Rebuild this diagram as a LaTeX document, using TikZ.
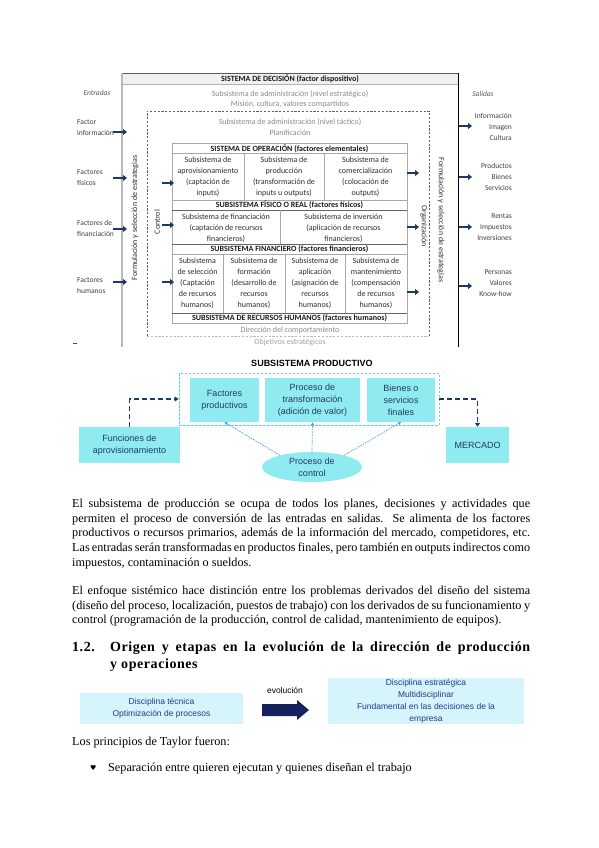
\documentclass[tikz,border=0pt]{standalone}
\usepackage{fontspec}
\setmainfont{Liberation Serif}
\newfontfamily\carl{Carlito}
\newfontfamily\arl{Liberation Sans}
\newfontfamily\djv{DejaVu Sans}
\newfontfamily\headfont[LetterSpace=4]{Liberation Serif}
\usetikzlibrary{arrows.meta,shapes.geometric}
\definecolor{navy}{HTML}{1F3864}
\definecolor{cyanfill}{HTML}{8FEBF0}
\definecolor{cyanline}{HTML}{55D3EA}
\definecolor{dotblue}{HTML}{3A9FD8}
\definecolor{lightcy}{HTML}{D6F4FB}
\definecolor{boxtext}{HTML}{1F3C88}
\definecolor{darkarrow}{HTML}{16225E}
\definecolor{txtgray}{HTML}{8A8A8A}
\definecolor{tblline}{HTML}{A8A8A8}
\definecolor{tbldark}{HTML}{666666}
\begin{document}
\begin{tikzpicture}[x=1pt,y=-1pt,
  sm/.style={font=\carl\fontsize{8}{11}\selectfont, text=black!82, inner sep=0pt, align=center},
  smb/.style={sm, font=\carl\bfseries\fontsize{8}{11}\selectfont, text=black!90},
  gry/.style={sm, text=txtgray},
  lab/.style={sm, font=\carl\fontsize{7.5}{11}\selectfont, text=black!75},
  inarrow/.style={draw=navy, line width=2pt, -{Triangle[length=4pt,width=6pt]}},
  pbox/.style={fill=cyanfill, draw=none, font=\arl\fontsize{9}{12}\selectfont, text=navy, align=center, inner sep=0pt},
  lbox/.style={fill=lightcy, draw=none, font=\arl\fontsize{8.5}{12}\selectfont, text=boxtext, align=center, inner sep=0pt},
  navydash/.style={draw=navy, line width=1.6pt, dash pattern=on 5pt off 3pt, -{Triangle[length=4pt,width=5pt]}},
  dotarrow/.style={draw=dotblue, line width=0.7pt, dash pattern=on 1.5pt off 1.2pt, -{Triangle[length=3pt,width=3pt]}},
  body/.style={font=\fontsize{12.2}{14}\selectfont, inner sep=0pt, anchor=base west},
  head/.style={font=\headfont\bfseries\fontsize{14}{16}\selectfont, inner sep=0pt, anchor=base west}
]
\useasboundingbox (0,0) rectangle (599,848);
\fill[white] (0,0) rectangle (599,848);

% ===== SISTEMA DE DECISION =====
\fill[gray!12] (122,73) rectangle (458,84);
\draw[gray!60] (122,84) -- (458,84);
\draw[gray!70!black, line width=0.8pt] (122,73) -- (458,73);
\draw[gray!55, line width=1.3pt] (122,73) -- (122,347);
\draw[black, line width=0.8pt] (458,73) -- (458,347);
\node[smb] (dec) at (290,78.8) {SISTEMA DE DECISIÓN (factor dispositivo)};
\node[gry] (ae) at (290,94) {Subsistema de administración (nivel estratégico)};
\node[gry] (mis) at (290,104) {Misión, cultura, valores compartidos};

% dashed box
\draw[gray!75!black, line width=0.6pt, dash pattern=on 2.2pt off 1.6pt] (147,336) -- (147,111) -- (429,111) -- (429,336);
\draw[gray!55, line width=0.6pt, dash pattern=on 2.2pt off 1.6pt] (147,336) -- (429,336);
\node[gry] (at) at (290,122.5) {Subsistema de administración (nivel táctico)};
\node[gry] (plan) at (290,132.5) {Planificación};
\node[gry] (dir) at (290,330) {Dirección del comportamiento};
\node[gry, text=txtgray!80] (obj) at (290,342) {Objetivos estratégicos};

% table
\draw[tblline, line width=0.6pt] (172,143) rectangle (407,323);
\draw[tblline, line width=0.6pt] (172,153) -- (407,153);
\draw[tblline, line width=0.6pt] (172,200) -- (407,200);
\draw[tbldark, line width=0.9pt] (172,210) -- (407,210);
\draw[tbldark, line width=0.9pt] (172,244) -- (407,244);
\draw[tblline, line width=0.6pt] (172,254) -- (407,254);
\draw[tbldark, line width=0.9pt] (172,313) -- (407,313);
\draw[tblline, line width=0.6pt] (244,153) -- (244,200);
\draw[tblline, line width=0.6pt] (324,153) -- (324,200);
\draw[tblline, line width=0.6pt] (280,210) -- (280,244);
\draw[tblline, line width=0.6pt] (223,254) -- (223,313);
\draw[tblline, line width=0.6pt] (285,254) -- (285,313);
\draw[tblline, line width=0.6pt] (345,254) -- (345,313);

\node[smb] (h1) at (289.5,148.3) {SISTEMA DE OPERACIÓN (factores elementales)};
\node[sm] (c11) at (208,177) {Subsistema de\\aprovisionamiento\\(captación de\\inputs)};
\node[sm] (c12) at (284,177) {Subsistema de\\producción\\(transformación de\\inputs u outputs)};
\node[sm] (c13) at (365.5,177) {Subsistema de\\comercialización\\(colocación de\\outputs)};
\node[smb] (h2) at (289.5,205) {SUBSISTEMA FÍSICO O REAL (factores físicos)};
\node[sm] (c21) at (226,228) {Subsistema de financiación\\(captación de recursos\\financieros)};
\node[sm] (c22) at (343.5,228) {Subsistema de inversión\\(aplicación de recursos\\financieros)};
\node[smb] (h3) at (289.5,249.2) {SUBSISTEMA FINANCIERO (factores financieros)};
\node[sm] (c31) at (197.5,283.5) {Subsistema\\de selección\\(Captación\\de recursos\\humanos)};
\node[sm] (c32) at (254,283.5) {Subsistema de\\formación\\(desarrollo de\\recursos\\humanos)};
\node[sm] (c33) at (315,283.5) {Subsistema de\\aplicación\\(asignación de\\recursos\\humanos)};
\node[sm] (c34) at (376,283.5) {Subsistema de\\mantenimiento\\(compensación\\de recursos\\humanos)};
\node[smb] (h4) at (289.5,318.2) {SUBSISTEMA DE RECURSOS HUMANOS (factores humanos)};

% rotated labels
\node[sm, rotate=90] (fsl) at (135,218) {Formulación y selección de estrategias};
\node[sm, rotate=-90] (fsr) at (441,220) {Formulación y selección de estrategias};
\node[sm, rotate=90] (ctrl) at (157,222) {Control};
\node[sm, rotate=-90] (org) at (424,226) {Organización};

% entradas / salidas
\node[lab, font=\carl\itshape\fontsize{7.5}{11}\selectfont, text=black!65] (ent) at (97,93) {Entradas};
\node[lab, font=\carl\itshape\fontsize{7.5}{11}\selectfont, text=black!65] (sal) at (483,93.5) {Salidas};
\node[lab, anchor=west, align=left] (e1) at (77,127.5) {Factor\\información};
\node[lab, anchor=west, align=left] (e2) at (77,177.5) {Factores\\físicos};
\node[lab, anchor=west, align=left] (e3) at (77,228.5) {Factores de\\financiación};
\node[lab, anchor=west, align=left] (e4) at (77,285.5) {Factores\\humanos};
\node[lab, anchor=east, align=right] (s1) at (512,127) {Información\\Imagen\\Cultura};
\node[lab, anchor=east, align=right] (s2) at (512,177) {Productos\\Bienes\\Servicios};
\node[lab, anchor=east, align=right] (s3) at (512,227) {Rentas\\Impuestos\\Inversiones};
\node[lab, anchor=east, align=right] (s4) at (512,283) {Personas\\Valores\\Know-how};

% small arrows
\coordinate (la1) at (113,132); \coordinate (lb1) at (127,132);
\coordinate (la2) at (113,178); \coordinate (lb2) at (127,178);
\coordinate (la3) at (113,229); \coordinate (lb3) at (127,229);
\coordinate (la4) at (113,282); \coordinate (lb4) at (127,282);
\coordinate (ra1) at (459,126); \coordinate (rb1) at (472,126);
\coordinate (ra2) at (459,177); \coordinate (rb2) at (472,177);
\coordinate (ra3) at (459,227); \coordinate (rb3) at (472,227);
\coordinate (ra4) at (459,286); \coordinate (rb4) at (472,286);
\coordinate (ia1) at (162,183); \coordinate (ib1) at (174,183);
\coordinate (ia2) at (162,225); \coordinate (ib2) at (174,225);
\coordinate (ia3) at (162,282); \coordinate (ib3) at (174,282);
\coordinate (oa1) at (407,173); \coordinate (ob1) at (419,173);
\coordinate (oa2) at (407,227); \coordinate (ob2) at (419,227);
\coordinate (oa3) at (407,292); \coordinate (ob3) at (419,292);
\foreach \p in {1,2,3,4} {\draw[inarrow] (la\p) -- (lb\p); \draw[inarrow] (ra\p) -- (rb\p);}
\foreach \p in {1,2,3} {\draw[inarrow] (ia\p) -- (ib\p); \draw[inarrow] (oa\p) -- (ob\p);}

% stray mark
\coordinate (sm1) at (73,343); \coordinate (sm2) at (77,343);
\draw[black!70, line width=0.6pt] (sm1) -- (sm2);

% ===== SUBSISTEMA PRODUCTIVO =====
\node[font=\arl\bfseries\fontsize{9}{11}\selectfont, inner sep=0pt] (tit) at (312,363) {SUBSISTEMA PRODUCTIVO};
\node[draw=cyanline, line width=0.8pt, dash pattern=on 2.5pt off 1.5pt, minimum width=260pt, minimum height=52pt, inner sep=0pt] (dbox) at (309,399) {};
\node[pbox, minimum width=69pt, minimum height=44pt] (fp) at (224.5,400) {Factores\\productivos};
\node[pbox, minimum width=95pt, minimum height=44pt] (pt) at (312.5,400) {Proceso de\\transformación\\(adición de valor)};
\node[pbox, minimum width=68pt, minimum height=44pt] (bs) at (401,400) {Bienes o\\servicios\\finales};
\node[pbox, minimum width=101pt, minimum height=36pt] (fa) at (129.5,445) {Funciones de\\aprovisionamiento};
\node[pbox, minimum width=63pt, minimum height=36pt] (mk) at (477.5,445) {MERCADO};
\node[pbox, ellipse, minimum width=100pt, minimum height=30pt] (ctl) at (312,467) {Proceso de\\control};
\draw[navydash] (fa.north) |- (dbox.west);
\draw[navydash] (dbox.east) -| (mk.north);
\draw[dotarrow] (ctl.160) -- (fp.south);
\draw[dotarrow] (ctl.north) -- (pt.south);
\draw[dotarrow] (ctl.20) -- (bs.south);

% ===== TEXT =====
\node[body] (p11) at (72,507.5) {\makebox[458pt][s]{El subsistema de producción se ocupa de todos los planes, decisiones y actividades que}};
\node[body] (p12) at (72,522.2) {\makebox[458pt][s]{permiten el proceso de conversión de las entradas en salidas. Se alimenta de los factores}};
\node[body] (p13) at (72,536.9) {\makebox[458pt][s]{productivos o recursos primarios, además de la información del mercado, competidores, etc.}};
\node[body] (p14) at (72,551.6) {\makebox[458pt][s]{Las entradas serán transformadas en productos finales, pero también en outputs indirectos como}};
\node[body] (p15) at (72,566.3) {impuestos, contaminación o sueldos.};
\node[body] (p21) at (72,594.5) {\makebox[458pt][s]{El enfoque sistémico hace distinción entre los problemas derivados del diseño del sistema}};
\node[body] (p22) at (72,609.2) {\makebox[458pt][s]{(diseño del proceso, localización, puestos de trabajo) con los derivados de su funcionamiento y}};
\node[body] (p23) at (72,623.9) {control (programación de la producción, control de calidad, mantenimiento de equipos).};

\node[head] (hn) at (72,651.5) {1.2.};
\node[head] (h1l) at (110,651.5) {\makebox[420pt][s]{Origen y etapas en la evolución de la dirección de producción}};
\node[head] (h2l) at (110,668.5) {y operaciones};

% evolution boxes
\node[lbox, minimum width=163pt, minimum height=31pt] (dt) at (161.5,708.5) {Disciplina técnica\\Optimización de procesos};
\node[lbox, minimum width=196pt, minimum height=46pt] (de) at (426,701) {Disciplina estratégica\\Multidisciplinar\\Fundamental en las decisiones de la\\empresa};
\node[font=\arl\fontsize{8.5}{10}\selectfont, inner sep=0pt] (evo) at (285,690) {evolución};
\fill[darkarrow] (262,704) -- (297,704) -- (297,700) -- (309,710) -- (297,720) -- (297,716) -- (262,716) -- cycle;

\node[body] (tay) at (72,745.5) {Los principios de Taylor fueron:};
\node[body, font=\djv\fontsize{7}{9}\selectfont] (bul) at (90,770.5) {♥};
\node[body] (b1) at (108,771) {Separación entre quieren ejecutan y quienes diseñan el trabajo};
\end{tikzpicture}
\end{document}
